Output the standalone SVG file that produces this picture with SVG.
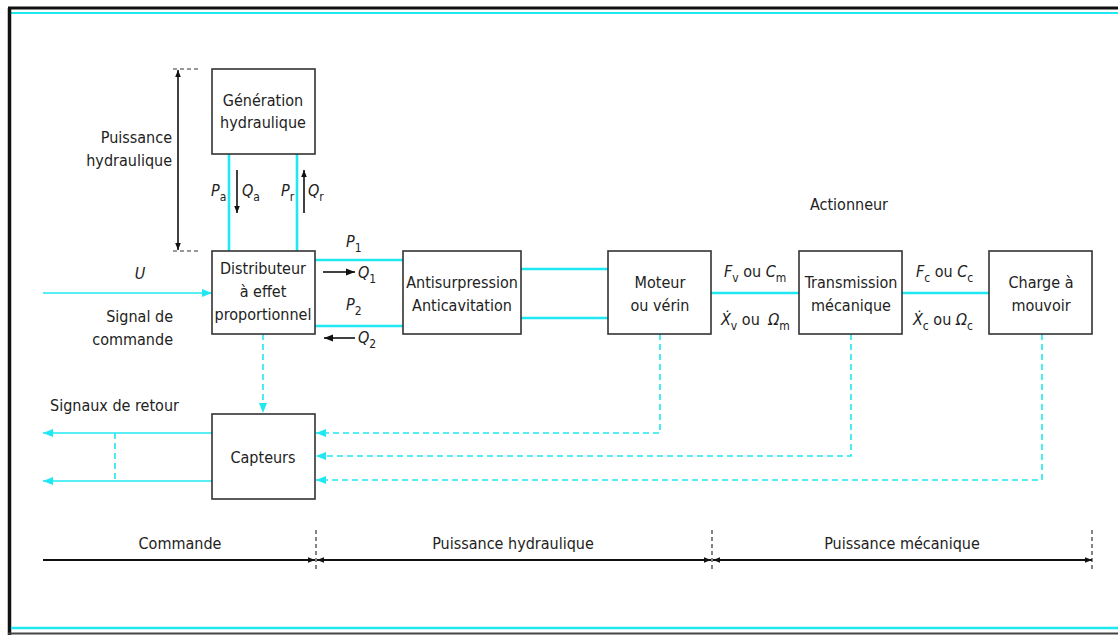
<svg xmlns="http://www.w3.org/2000/svg" width="1118" height="635" viewBox="0 0 1118 635">
<style>
text{font-family:"Liberation Sans Narrow","DejaVu Sans Condensed","Liberation Sans",sans-serif;font-size:16px;fill:#222}
.c{text-anchor:middle}
.r{text-anchor:end}
.i{font-style:italic}
.s{font-size:12px;font-style:normal}
.box{fill:#fff;stroke:#333;stroke-width:1.6}
.cy{stroke:#1fe8f2;stroke-width:2.6;fill:none}
.cyt{stroke:#1fe8f2;stroke-width:1.6;fill:none}
.cyd{stroke:#1fe8f2;stroke-width:1.6;fill:none;stroke-dasharray:6 4}
.blk{stroke:#111;stroke-width:1.6;fill:none}
.gd{stroke:#333;stroke-width:1.2;fill:none;stroke-dasharray:4 3}
</style>
<defs>
<marker id="ac" viewBox="0 0 10 10" refX="10" refY="5" markerWidth="10" markerHeight="10" markerUnits="userSpaceOnUse" orient="auto-start-reverse"><path d="M0,1 L10,5 L0,9 z" fill="#1fe8f2"/></marker>
<marker id="ab" viewBox="0 0 10 10" refX="10" refY="5" markerWidth="9" markerHeight="9" markerUnits="userSpaceOnUse" orient="auto-start-reverse"><path d="M0,1 L10,5 L0,9 z" fill="#111"/></marker>
<marker id="as" viewBox="0 0 10 10" refX="10" refY="5" markerWidth="7" markerHeight="7" markerUnits="userSpaceOnUse" orient="auto-start-reverse"><path d="M0,1 L10,5 L0,9 z" fill="#111"/></marker>
</defs>
<rect width="1118" height="635" fill="#fff"/>
<!-- frame -->
<g id="frame">
<line x1="8" y1="8" x2="1118" y2="8" stroke="#111" stroke-width="3"/>
<line x1="11" y1="13" x2="1118" y2="13" stroke="#1fe8f2" stroke-width="2"/>
<line x1="9.5" y1="8" x2="9.5" y2="635" stroke="#111" stroke-width="3.5"/>
<line x1="11" y1="628" x2="1118" y2="628" stroke="#1fe8f2" stroke-width="2.5"/>
<line x1="8" y1="633.5" x2="1118" y2="633.5" stroke="#444" stroke-width="2"/>
</g>
<g id="connectors">
<line class="cy" x1="229" y1="154" x2="229" y2="251"/>
<line class="cy" x1="297" y1="154" x2="297" y2="251"/>
<line class="cy" x1="315" y1="260" x2="403" y2="260"/>
<line class="cy" x1="315" y1="326" x2="403" y2="326"/>
<line class="cy" x1="521" y1="269" x2="608" y2="269"/>
<line class="cy" x1="521" y1="318" x2="608" y2="318"/>
<line class="cy" x1="711" y1="293" x2="799" y2="293"/>
<line class="cy" x1="902" y1="293" x2="989" y2="293"/>
<line class="cyt" x1="43" y1="293" x2="212" y2="293" marker-end="url(#ac)"/>
<line class="cyd" x1="263" y1="334" x2="263" y2="413" marker-end="url(#ac)"/>
<line class="cyt" x1="212" y1="433" x2="43" y2="433" marker-end="url(#ac)"/>
<line class="cyt" x1="212" y1="481" x2="43" y2="481" marker-end="url(#ac)"/>
<line class="cyd" x1="115" y1="433" x2="115" y2="481"/>
<polyline class="cyd" points="660,334 660,433 316,433" marker-end="url(#ac)"/>
<polyline class="cyd" points="851,334 851,456 316,456" marker-end="url(#ac)"/>
<polyline class="cyd" points="1042,334 1042,480 316,480" marker-end="url(#ac)"/>
<!-- flow arrows -->
<line class="blk" x1="237" y1="170" x2="237" y2="213" marker-end="url(#as)"/>
<line class="blk" x1="304" y1="213" x2="304" y2="170" marker-end="url(#as)"/>
<line class="blk" x1="323" y1="272" x2="355" y2="272" stroke-width="2" marker-end="url(#ab)"/>
<line class="blk" x1="355" y1="338" x2="324" y2="338" stroke-width="2" marker-end="url(#ab)"/>
<!-- left dimension -->
<line class="blk" x1="178" y1="70" x2="178" y2="250" stroke-width="1.2" marker-start="url(#as)" marker-end="url(#as)"/>
<line class="gd" x1="173" y1="69" x2="200" y2="69"/>
<line class="gd" x1="173" y1="251" x2="200" y2="251"/>
<!-- bottom axis -->
<line x1="43" y1="560" x2="315" y2="560" stroke="#111" stroke-width="2" marker-end="url(#as)"/>
<line x1="317" y1="560" x2="711" y2="560" stroke="#111" stroke-width="2" marker-start="url(#as)" marker-end="url(#as)"/>
<line x1="713" y1="560" x2="1092" y2="560" stroke="#111" stroke-width="2" marker-start="url(#as)" marker-end="url(#as)"/>
<line class="gd" x1="316" y1="530" x2="316" y2="570"/>
<line class="gd" x1="712" y1="530" x2="712" y2="570"/>
<line class="gd" x1="1092" y1="530" x2="1092" y2="570"/>
</g>
<g id="gen"><rect class="box" x="212" y="69" width="103" height="85"/>
<text class="c" x="263" y="106">Génération</text><text class="c" x="263" y="128">hydraulique</text></g>
<g id="dist"><rect class="box" x="212" y="251" width="103" height="83"/>
<text class="c" x="263" y="274">Distributeur</text><text class="c" x="263" y="297">à effet</text><text class="c" x="263" y="320">proportionnel</text></g>
<g id="anti"><rect class="box" x="403" y="251" width="118" height="83"/>
<text class="c" x="462" y="288">Antisurpression</text><text class="c" x="462" y="311">Anticavitation</text></g>
<g id="moteur"><rect class="box" x="608" y="251" width="103" height="83"/>
<text class="c" x="660" y="288">Moteur</text><text class="c" x="660" y="311">ou vérin</text></g>
<g id="trans"><rect class="box" x="799" y="251" width="103" height="83"/>
<text class="c" x="851" y="288">Transmission</text><text class="c" x="851" y="311">mécanique</text></g>
<g id="charge"><rect class="box" x="989" y="251" width="103" height="83"/>
<text class="c" x="1041" y="288">Charge à</text><text class="c" x="1041" y="311">mouvoir</text></g>
<g id="capteurs"><rect class="box" x="212" y="414" width="103" height="85"/>
<text class="c" x="263" y="463">Capteurs</text></g>
<g id="labels">
<text class="r" x="172" y="143">Puissance</text><text class="r" x="172" y="166">hydraulique</text>
<text class="i" x="211" y="196">P<tspan class="s" dy="5">a</tspan></text>
<text class="i" x="242" y="196">Q<tspan class="s" dy="5">a</tspan></text>
<text class="i" x="281" y="196">P<tspan class="s" dy="5">r</tspan></text>
<text class="i" x="308" y="196">Q<tspan class="s" dy="5">r</tspan></text>
<text class="i" x="346" y="247">P<tspan class="s" dy="5">1</tspan></text>
<text class="i" x="358" y="278">Q<tspan class="s" dy="5">1</tspan></text>
<text class="i" x="346" y="310">P<tspan class="s" dy="5">2</tspan></text>
<text class="i" x="358" y="343">Q<tspan class="s" dy="5">2</tspan></text>
<text class="c i" x="140" y="279">U</text>
<text class="r" x="173" y="322">Signal de</text><text class="r" x="173" y="345">commande</text>
<text x="50" y="411">Signaux de retour</text>
<text class="c" x="849" y="210">Actionneur</text>
<text x="724" y="277"><tspan class="i">F</tspan><tspan class="s" dy="5">v</tspan><tspan dy="-5"> ou </tspan><tspan class="i">C</tspan><tspan class="s" dy="5">m</tspan></text>
<text x="721" y="325"><tspan class="i">Ẋ</tspan><tspan class="s" dy="5">v</tspan><tspan dy="-5"> ou </tspan><tspan class="i" dx="4">Ω</tspan><tspan class="s" dy="5">m</tspan></text>
<text x="916" y="277"><tspan class="i">F</tspan><tspan class="s" dy="5">c</tspan><tspan dy="-5"> ou </tspan><tspan class="i">C</tspan><tspan class="s" dy="5">c</tspan></text>
<text x="913" y="325"><tspan class="i">Ẋ</tspan><tspan class="s" dy="5">c</tspan><tspan dy="-5"> ou </tspan><tspan class="i">Ω</tspan><tspan class="s" dy="5">c</tspan></text>
<text class="c" x="180" y="549">Commande</text>
<text class="c" x="513" y="549">Puissance hydraulique</text>
<text class="c" x="902" y="549">Puissance mécanique</text>
</g>
</svg>
